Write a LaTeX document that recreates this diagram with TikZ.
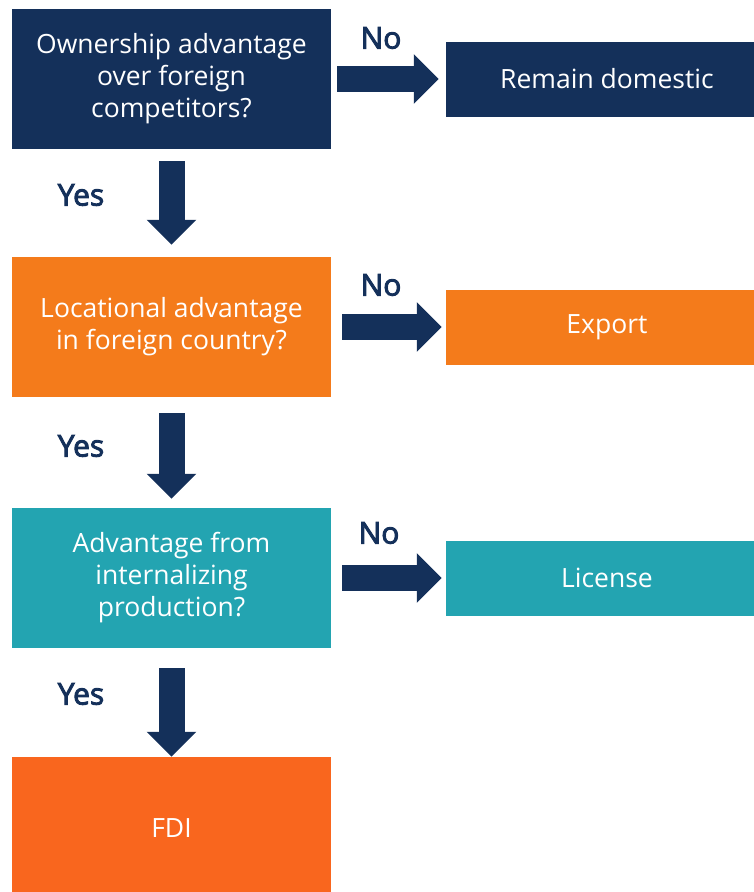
\documentclass[tikz,border=0pt]{standalone}
\usepackage{fontspec}
\setmainfont{Open Sans}
\newfontfamily\lblfont{Open Sans}[FakeBold=3]
\usetikzlibrary{arrows.meta}
\definecolor{navy}{HTML}{14305A}
\definecolor{orng}{HTML}{F47B1B}
\definecolor{teal}{HTML}{23A4B1}
\definecolor{fdi}{HTML}{F9661E}
\begin{document}
\begin{tikzpicture}[x=1pt,y=-1pt,
  box/.style={rectangle, inner sep=0pt, text=white, font=\fontsize{26.5}{32}\selectfont, align=center},
  qbox/.style={box, minimum width=319pt, minimum height=140pt},
  abox/.style={box, minimum width=322pt, minimum height=75pt},
  bigarrow/.style={draw=navy, line width=26pt, -{Triangle[width=48pt 0 0,length=25pt 0 0]}},
  lbl/.style={text=navy, font=\lblfont\fontsize{30}{32}\selectfont}]
\useasboundingbox (0,0) rectangle (754,892);
\node[qbox, fill=navy] (own) at (171.5,79) {Ownership advantage\\over foreign\\competitors?};
\node[abox, fill=navy] (rem) at (607,79) {Remain domestic};
\node[qbox, fill=orng] (loc) at (171.5,327) {Locational advantage\\in foreign country?};
\node[abox, fill=orng] (exp) at (607,327) {Export};
\node[qbox, fill=teal] (int) at (171.5,578) {Advantage from\\internalizing\\production?};
\node[abox, fill=teal] (lic) at (607,578) {License};
\node[box, fill=fdi, minimum width=319pt, minimum height=142pt] (fdi) at (171.5,828) {FDI};
\draw[bigarrow] ([xshift=6pt]own.east) -- ([xshift=-7pt]rem.west);
\draw[bigarrow] ([xshift=11pt]loc.east) -- ([xshift=-4pt]exp.west);
\draw[bigarrow] ([xshift=11pt]int.east) -- ([xshift=-4pt]lic.west);
\draw[bigarrow] ([yshift=-12pt]own.south) -- ([yshift=12pt]loc.north);
\draw[bigarrow] ([yshift=-16pt]loc.south) -- ([yshift=9pt]int.north);
\draw[bigarrow] ([yshift=-20pt]int.south) -- (fdi.north);
\node[lbl] (no1) at (381,38) {No};
\node[lbl] (no2) at (381,285) {No};
\node[lbl] (no3) at (379,533) {No};
\node[lbl] (yes1) at (81,195) {Yes};
\node[lbl] (yes2) at (81,446) {Yes};
\node[lbl] (yes3) at (81,694) {Yes};
\end{tikzpicture}
\end{document}
